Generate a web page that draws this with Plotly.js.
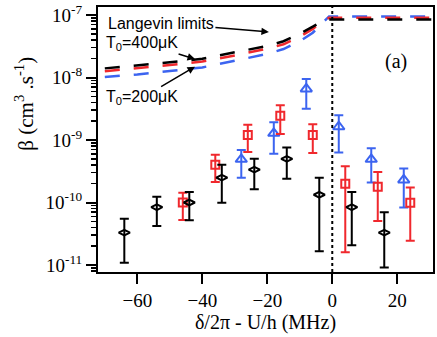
<!DOCTYPE html>
<html>
<head>
<meta charset="utf-8">
<script src="https://cdn.plot.ly/plotly-3.0.1.min.js"></script>
<style>
    html, body { margin: 0; padding: 0; background: #fff; }
    #chart { width: 437px; height: 337px; }
</style>
</head>
<body>
<div id="chart"></div>
<script>
// black diamonds
var blackX = [-64, -54, -44, -34, -24, -14, -4, 6, 16];
var blackY = [3.3e-11, 8.4e-11, 1.0e-10, 2.5e-10, 3.35e-10, 5.0e-10, 1.33e-10, 8.4e-11, 3.3e-11];
var blackTop = [5.5e-11, 1.24e-10, 1.47e-10, 4.0e-10, 5.0e-10, 7.6e-10, 2.5e-10, 1.47e-10, 7.0e-11];
var blackBottom = [1.09e-11, 4.2e-11, 5.2e-11, 9.9e-11, 1.63e-10, 2.4e-10, 1.66e-11, 2.07e-11, 9.1e-12];

// red squares
var redX = [-46, -36, -26, -16, -6, 4, 14, 24];
var redY = [1.0e-10, 4.0e-10, 1.2e-9, 2.45e-9, 1.2e-9, 2.0e-10, 1.79e-10, 9.9e-11];
var redTop = [1.43e-10, 5.8e-10, 1.76e-9, 3.59e-9, 1.78e-9, 3.8e-10, 3.08e-10, 1.73e-10];
var redBottom = [5.25e-11, 2.13e-10, 6.4e-10, 1.25e-9, 6.2e-10, 1.6e-11, 5.06e-11, 2.45e-11];

// blue triangles
var blueX = [-28, -18, -8, 2, 12, 22];
var blueY = [4.9e-10, 1.28e-9, 6.55e-9, 1.63e-9, 4.9e-10, 2.3e-10];
var blueTop = [6.9e-10, 1.92e-9, 9.5e-9, 2.5e-9, 7.4e-10, 3.5e-10];
var blueBottom = [2.5e-10, 6.0e-10, 3.17e-9, 6.3e-10, 2.08e-10, 8.3e-11];

// Langevin limits
var langX = [-70, -60, -50, -40, -30, -20, -15, -10, -6, -3, -1, 0, 10, 20, 31];
var langBlack = [1.4e-8, 1.55e-8, 1.75e-8, 2.0e-8, 2.5e-8, 3.2e-8, 3.8e-8, 5.0e-8, 6.5e-8, 8.0e-8, 8.5e-8, 8.5e-8, 8.5e-8, 8.5e-8, 8.5e-8];
var langRed = [1.26e-8, 1.4e-8, 1.58e-8, 1.8e-8, 2.25e-8, 2.9e-8, 3.4e-8, 4.5e-8, 6.0e-8, 7.8e-8, 9.0e-8, 9.0e-8, 9.0e-8, 9.0e-8, 9.0e-8];
var langBlue = [1.02e-8, 1.12e-8, 1.27e-8, 1.45e-8, 1.85e-8, 2.4e-8, 2.85e-8, 3.8e-8, 5.2e-8, 7.5e-8, 9.5e-8, 9.5e-8, 9.5e-8, 9.5e-8, 9.5e-8];

var yTickVals = [1e-11, 1e-10, 1e-9, 1e-8, 1e-7];
var yTickText = ['10<sup>-11</sup>', '10<sup>-10</sup>', '10<sup>-9</sup>', '10<sup>-8</sup>', '10<sup>-7</sup>'];

var red = '#f0282d';
var blue = '#3c64f0';
var serif = 'Liberation Serif, Times New Roman, serif';
var sans = 'Liberation Sans, Arial, sans-serif';

function diffs(a, b) {
    let out = [];
    for (let i = 0; i < a.length; i++) {
        out.push(a[i] - b[i]);
    }
    return out;
}

function minorVals() {
    let vals = [];
    for (let p = -12; p <= -7; p++) {
        for (let k = 2; k <= 9; k++) {
            vals.push(k * Math.pow(10, p));
        }
    }
    return vals;
}

function langTrace(y, color) {
    return {
        x: langX, y: y, mode: 'lines', hoverinfo: 'skip',
        line: {color: color, width: 2.5, dash: '15px,14px'}
    };
}

function pointTrace(x, y, top, bottom, color, symbol, size) {
    return {
        x: x, y: y, mode: 'markers',
        marker: {symbol: symbol, size: size, color: color, line: {color: color, width: 2}},
        error_y: {
            type: 'data', symmetric: false,
            array: diffs(top, y), arrayminus: diffs(y, bottom),
            color: color, thickness: 2, width: 4.5
        }
    };
}

var data = [
    langTrace(langBlue, blue),
    langTrace(langRed, red),
    langTrace(langBlack, '#000'),
    pointTrace(blueX, blueY, blueTop, blueBottom, blue, 'triangle-up-open', 10),
    pointTrace(redX, redY, redTop, redBottom, red, 'square-open', 8),
    pointTrace(blackX, blackY, blackTop, blackBottom, '#000', 'diamond-wide-open', 8)
];

var layout = {
    width: 437, height: 337,
    margin: {l: 98, r: 4, t: 7, b: 65},
    showlegend: false,
    paper_bgcolor: '#fff', plot_bgcolor: '#fff',
    font: {family: serif, size: 19, color: '#000'},
    xaxis: {
        range: [-72.1, 31], dtick: 20, tick0: 0,
        showgrid: false, zeroline: false,
        showline: true, linewidth: 2, linecolor: '#000', mirror: true,
        ticks: 'outside', ticklen: 10, tickwidth: 2, tickcolor: '#000',
        tickfont: {family: serif, size: 19},
        title: {text: 'δ/2π - U/h (MHz)', font: {family: serif, size: 20}, standoff: 4}
    },
    yaxis: {
        type: 'log', range: [-11.112, -6.872],
        tickmode: 'array', tickvals: yTickVals, ticktext: yTickText,
        showgrid: false, zeroline: false,
        showline: true, linewidth: 2, linecolor: '#000', mirror: true,
        ticks: 'outside', ticklen: 10, tickwidth: 2, tickcolor: '#000',
        tickfont: {family: serif, size: 19},
        minor: {tickmode: 'array', tickvals: minorVals(), ticks: 'outside', ticklen: 5, tickwidth: 1.5, tickcolor: '#000', showgrid: false}
    },
    shapes: [{
        type: 'line', xref: 'x', yref: 'paper', x0: 0, x1: 0, y0: 0, y1: 1,
        line: {color: '#000', width: 2, dash: 'dot'}
    }],
    annotations: [
        {
            text: 'β (cm<sup>3</sup> .s<sup>-1</sup>)', textangle: -90,
            xref: 'paper', yref: 'paper', x: -0.265, y: 0.634,
            showarrow: false, font: {family: serif, size: 21}
        },
        {
            text: '(a)', xref: 'paper', yref: 'paper', x: 0.928, y: 0.846,
            showarrow: false, font: {family: serif, size: 20}
        },
        {
            text: 'Langevin limits', x: -19.5, y: -7.272, ax: -108, ay: -9,
            showarrow: true, arrowhead: 2, arrowsize: 1, arrowwidth: 1.5, arrowcolor: '#000',
            font: {family: sans, size: 16}
        },
        {
            text: 'T<sub>0</sub>=400μK', x: -42.25, y: -7.704, ax: -52.5, ay: -16,
            showarrow: true, arrowhead: 2, arrowsize: 1, arrowwidth: 1.5, arrowcolor: '#000',
            font: {family: sans, size: 16}
        },
        {
            text: 'T<sub>0</sub>=200μK', x: -42.25, y: -7.827, ax: -52.5, ay: 31,
            showarrow: true, arrowhead: 2, arrowsize: 1, arrowwidth: 1.5, arrowcolor: '#000',
            font: {family: sans, size: 16}
        }
    ]
};

Plotly.newPlot('chart', data, layout, {staticPlot: true});
</script>
</body>
</html>
